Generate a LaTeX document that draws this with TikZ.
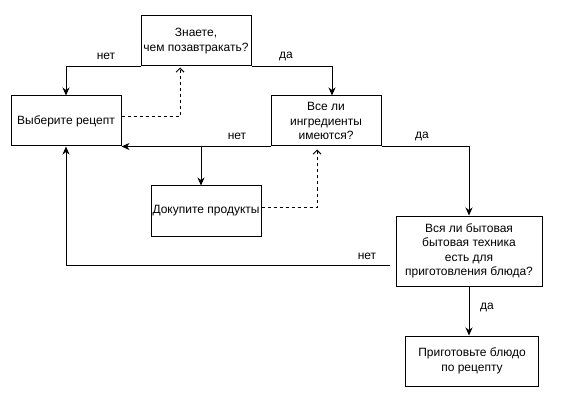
\documentclass[tikz,border=0pt]{standalone}
\usepackage{fontspec}
\setmainfont{Liberation Sans}
\usetikzlibrary{arrows.meta}
\begin{document}
\begin{tikzpicture}[x=1pt,y=-1pt,
  box/.style={draw,line width=1pt,align=center,inner sep=0pt,
    minimum width=110pt,minimum height=50pt,
    font=\fontsize{12}{14.5}\selectfont},
  lbl/.style={inner sep=0pt,font=\fontsize{12}{14.5}\selectfont},
  flow/.style={draw,line width=1pt,-{Stealth[length=8pt,width=7pt,inset=2.5pt]}},
  dflow/.style={draw,line width=1pt,dash pattern=on 3pt off 3pt,
    -{Straight Barb[length=4pt,width=8pt]}}]
  \useasboundingbox (0,0) rectangle (567,406);

  % decision and action boxes
  \node[box] (q1) at (196,41) {Знаете,\\чем позавтракать?};
  \node[box] (b2) at (66,121) {Выберите рецепт};
  \node[box] (q2) at (326,121) {Все ли\\ингредиенты\\имеются?};
  \node[box] (b4) at (206,211) {Докупите продукты};
  \node[box,minimum width=146pt,minimum height=70pt] (q3) at (469,251)
    {Вся ли бытовая\\бытовая техника\\есть для\\приготовления блюда?};
  \node[box,minimum width=133pt] (fin) at (472,361) {Приготовьте блюдо\\по рецепту};

  % junction points on the branches
  \coordinate (j1) at (201,146);
  \coordinate (j2) at (332,66);

  % solid connectors
  \draw[flow] (q1.south west) -| (b2.north);
  \draw[flow] (q1.south east) -| (j2 |- q2.north);
  \draw[flow] (q2.south west) -- (b2.south east);
  \draw[flow] (j1) -- (j1 |- b4.north);
  \draw[flow] (q2.south east) -| (q3.north);
  \draw[flow,shorten <=6pt] ([yshift=-14pt]q3.west) -| (b2.south);
  \draw[flow] (q3.south) -- (q3.south |- fin.north);

  % dashed return connectors
  \draw[dflow,shorten >=1pt] ([yshift=4pt]b2.east) -| ([xshift=-16pt]q1.south);
  \draw[dflow,shorten >=3pt] ([yshift=4pt]b4.east) -| ([xshift=-9pt]q2.south);

  % branch labels
  \node[lbl] (l1) at (106,56) {нет};
  \node[lbl] (l2) at (286,56) {да};
  \node[lbl] (l3) at (237,136) {нет};
  \node[lbl] (l4) at (422,136) {да};
  \node[lbl] (l5) at (367,256) {нет};
  \node[lbl] (l6) at (487,307) {да};
\end{tikzpicture}
\end{document}
